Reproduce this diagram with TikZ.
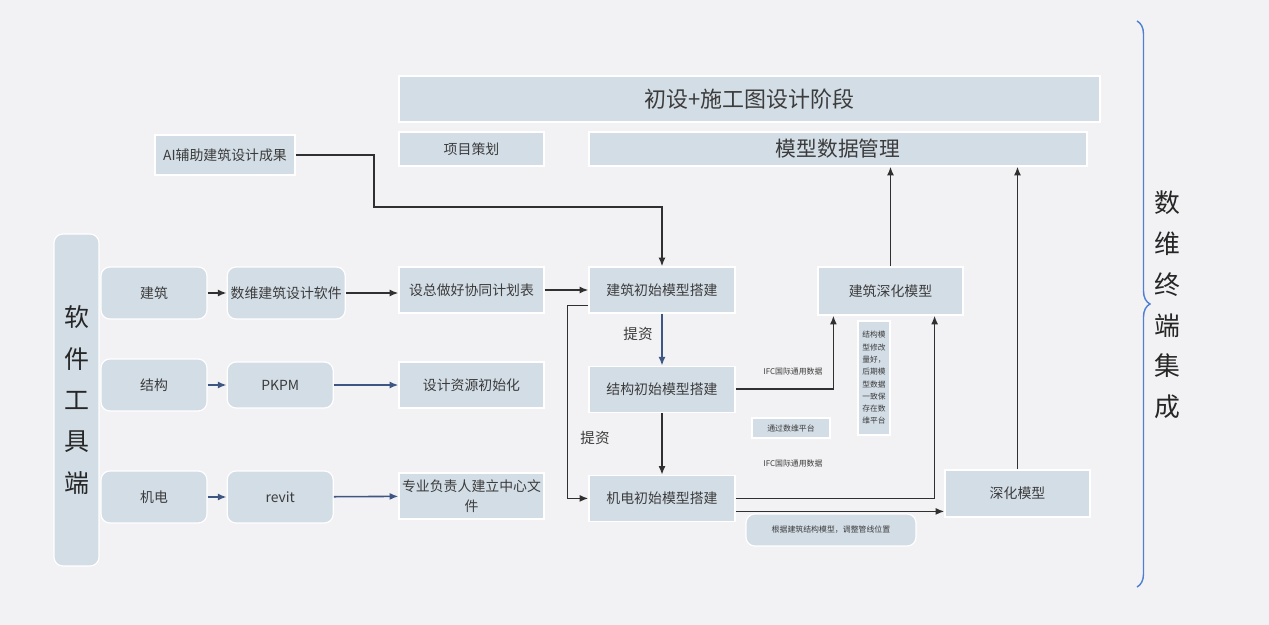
\documentclass[tikz,border=0pt]{standalone}
\usepackage{fontspec}
\setmainfont{Noto Sans CJK SC}
\usepackage{tikz}
\usetikzlibrary{arrows.meta, positioning, calc, decorations.pathreplacing}
\usepackage{xcolor}
\definecolor{bggray}{HTML}{F2F2F4}
\definecolor{boxfill}{HTML}{D3DDE6}
\definecolor{txtgray}{HTML}{3C3C3C}
\definecolor{linedark}{HTML}{303030}
\definecolor{lineblue}{HTML}{3E5683}
\definecolor{braceblue}{HTML}{4F7FD4}
\newcommand{\fmain}{\fontsize{7.9}{11.3}\selectfont}
\newcommand{\fsmall}{\fontsize{4.5}{7}\selectfont}
\newcommand{\fnote}{\fontsize{4.4}{7}\selectfont}
\newcommand{\ftitle}{\fontsize{12.5}{15}\selectfont}
\newcommand{\fmgmt}{\fontsize{11.8}{14}\selectfont}
\newcommand{\fside}{\fontsize{14.2}{23.6}\selectfont}
\newcommand{\fend}{\fontsize{14.7}{23.2}\selectfont}
\newcommand{\flabel}{\fontsize{8.3}{10}\selectfont}

\begin{document}
\begin{tikzpicture}[x=0.02cm, y=-0.02cm, >=Latex, font=\fmain,
    box/.style={draw=white, line width=0.7pt, fill=boxfill, text=txtgray, align=center, inner sep=1pt},
    rbox/.style={box, rounded corners=5pt},
    flow/.style={-{Latex[length=5pt,width=4pt]}, draw=linedark, line width=0.9pt},
    bflow/.style={flow, draw=lineblue},
    lbl/.style={text=txtgray, inner sep=1pt}]
    \fill[bggray] (0,0) rectangle (1269,625);
    \useasboundingbox (0,0) rectangle (1269,625);

    % software side
    \node[rbox, minimum width=0.9cm, minimum height=6.64cm, font=\fside, text=black!85] (tools) at (76.5,400) {软\\件\\工\\具\\端};
    \node[rbox, minimum width=2.12cm, minimum height=1.04cm] (arch) at (154,293) {建筑};
    \node[rbox, minimum width=2.12cm, minimum height=1.04cm] (struct) at (154,385) {结构};
    \node[rbox, minimum width=2.12cm, minimum height=1.04cm] (mep) at (154,497) {机电};
    \node[rbox, minimum width=2.36cm, minimum height=1.04cm, right=0.38cm of arch] (swsoft) {数维建筑设计软件};
    \node[rbox, minimum width=2.12cm, minimum height=0.92cm, right=0.38cm of struct] (pkpm) {PKPM};
    \node[rbox, minimum width=2.12cm, minimum height=1.04cm, right=0.38cm of mep] (revit) {revit};
    \node[box, minimum width=2.9cm, minimum height=0.92cm] (plan) at (471.5,290) {设总做好协同计划表};
    \node[box, minimum width=2.9cm, minimum height=0.92cm] (resinit) at (471.5,385) {设计资源初始化};
    \node[box, minimum width=2.9cm, minimum height=0.92cm] (cfile) at (471.5,496) {专业负责人建立中心文\\件};
    \node[box, minimum width=2.8cm, minimum height=0.8cm] (aires) at (225,155) {AI辅助建筑设计成果};

    % design stage
    \node[box, minimum width=14.02cm, minimum height=0.92cm, font=\ftitle] (stage) at (749.5,99) {初设+施工图设计阶段};
    \node[box, minimum width=2.9cm, minimum height=0.68cm] (proj) at (471.5,149) {项目策划};
    \node[box, minimum width=9.96cm, minimum height=0.68cm, font=\fmgmt] (mgmt) at (838,149) {模型数据管理};
    \node[box, minimum width=2.92cm, minimum height=0.92cm] (archinit) at (662,290) {建筑初始模型搭建};
    \node[box, minimum width=2.92cm, minimum height=0.92cm, below=1.04cm of archinit] (structinit) {结构初始模型搭建};
    \node[box, minimum width=2.92cm, minimum height=0.92cm, below=1.24cm of structinit] (mepinit) {机电初始模型搭建};
    \node[box, minimum width=2.9cm, minimum height=0.96cm] (archdeep) at (890.5,291) {建筑深化模型};
    \node[box, minimum width=2.9cm, minimum height=0.94cm] (deep) at (1017.5,493.5) {深化模型};
    \node[box, minimum width=0.64cm, minimum height=2.28cm, font=\fnote] (note) at (874,378) {结构模\\型修改\\量好，\\后期模\\型数据\\一致保\\存在数\\维平台};
    \node[box, minimum width=1.56cm, minimum height=0.4cm, font=\fsmall] (platform) at (791,428) {通过数维平台};
    \node[rbox, minimum width=3.4cm, minimum height=0.64cm, font=\fsmall] (adjust) at (831,530) {根据建筑结构模型，调整管线位置};

    % labels
    \node[lbl, font=\fsmall] (ifcup) at (793,372) {IFC国际通用数据};
    \node[lbl, font=\fsmall] (ifclow) at (793,464) {IFC国际通用数据};
    \node[lbl, font=\flabel] (tzone) at (638,334) {提资};
    \node[lbl, font=\flabel] (tztwo) at (595,438) {提资};

    % terminal side
    \node[font=\fend, text=black!85, align=center] (integ) at (1167,305) {数\\维\\终\\端\\集\\成};
    \coordinate (bracetop) at (1137,21);
    \coordinate (bracebot) at (1137,587);
    \draw[braceblue, line width=0.8pt, decorate, decoration={brace, amplitude=7.4pt}] (bracetop) -- (bracebot);

    % connectors
    \draw[flow] (arch) -- (swsoft);
    \draw[bflow] (struct) -- (pkpm);
    \draw[bflow] (mep) -- (revit);
    \draw[flow] (swsoft.east) -- (swsoft.east -| plan.west);
    \draw[bflow] (pkpm) -- (resinit);
    \draw[bflow] (revit) -- (cfile);
    \draw[flow] (plan) -- (archinit);
    \coordinate (aiturn) at (374,207);
    \draw[flow] (aires.east) -| (aiturn) -| (archinit.north);
    \draw[bflow] (archinit) -- (structinit);
    \draw[flow] (structinit) -- (mepinit);
    \coordinate (archout) at ($(archinit.south west)+(0,-8)$);
    \draw[flow] (archout) -- ++(-21,0) |- (mepinit.west);
    \draw[flow] (structinit.east) -| ($(archdeep.south west)+(16,0)$);
    \draw[flow] (mepinit.east) -| ($(archdeep.south east)+(-29,0)$);
    \coordinate (mepout) at ($(mepinit.east)+(0,13)$);
    \draw[flow] (mepout) -- (mepout -| deep.west);
    \draw[flow] (archdeep) -- (archdeep |- mgmt.south);
    \draw[flow] (deep) -- (deep |- mgmt.south);
\end{tikzpicture}
\end{document}
